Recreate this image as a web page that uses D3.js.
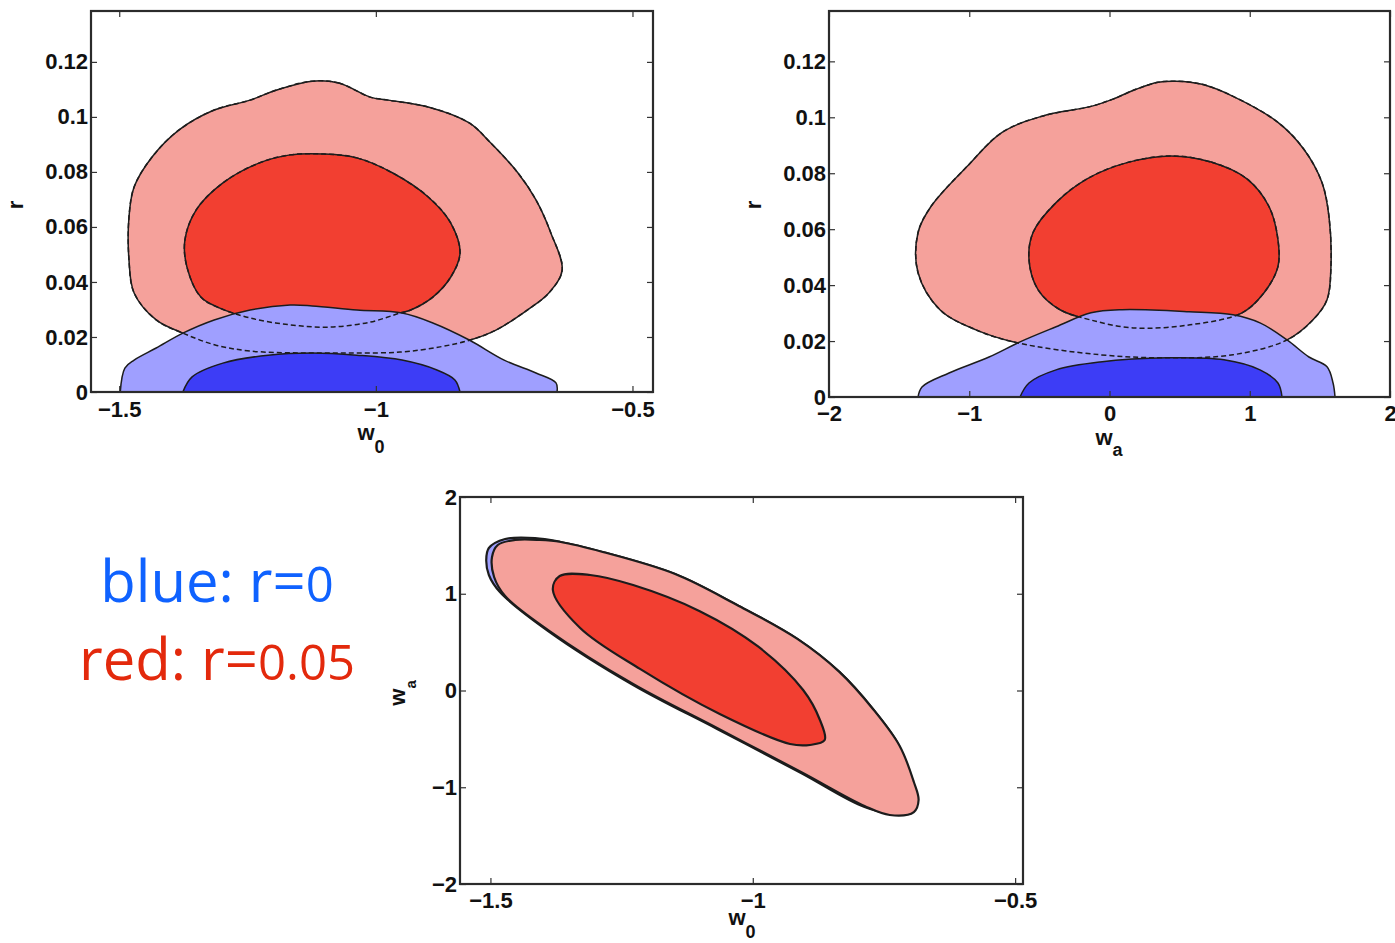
<!DOCTYPE html>
<html>
<head>
<meta charset="utf-8">
<script src="https://cdn.jsdelivr.net/npm/d3@7"></script>
<style>
  body { margin: 0; background: #fff; }
  svg { display: block; }
</style>
</head>
<body>
<script>
// tick values
const ticksW0 = [-1.5, -1, -0.5];
const ticksWa = [-2, -1, 0, 1, 2];
const ticksR = [0, 0.02, 0.04, 0.06, 0.08, 0.1, 0.12];

// contour outlines, [x, y] in data units
// panel 1: w0 vs r
const w0rRedOuter = [[-1.124, 0.1130], [-1.072, 0.1123], [-1.011, 0.1072], [-0.976, 0.1061], [-0.898, 0.1036],
  [-0.818, 0.0978], [-0.776, 0.0905], [-0.723, 0.0796], [-0.688, 0.0698], [-0.659, 0.0578], [-0.637, 0.0443],
  [-0.663, 0.0360], [-0.705, 0.0298], [-0.766, 0.0225], [-0.816, 0.0189], [-0.875, 0.0164], [-0.953, 0.0145],
  [-1.050, 0.0142], [-1.148, 0.0142], [-1.245, 0.0149], [-1.313, 0.0171], [-1.376, 0.0214], [-1.428, 0.0262],
  [-1.471, 0.0360], [-1.481, 0.0480], [-1.481, 0.0636], [-1.471, 0.0745], [-1.436, 0.0854], [-1.384, 0.0952],
  [-1.315, 0.1025], [-1.245, 0.1061], [-1.193, 0.1098]];
const w0rRedInner = [[-1.101, 0.0865], [-1.037, 0.0851], [-0.967, 0.0796], [-0.898, 0.0709], [-0.854, 0.0614],
  [-0.836, 0.0505], [-0.854, 0.0418], [-0.889, 0.0345], [-0.932, 0.0298], [-0.953, 0.0287], [-1.011, 0.0254],
  [-1.089, 0.0236], [-1.167, 0.0244], [-1.245, 0.0269], [-1.304, 0.0305], [-1.341, 0.0345], [-1.368, 0.0454],
  [-1.372, 0.0553], [-1.350, 0.0662], [-1.298, 0.0760], [-1.228, 0.0832], [-1.167, 0.0862]];
const w0rBlueOuter = [[-1.498, 0], [-1.489, 0.0087], [-1.471, 0.0116], [-1.428, 0.0160], [-1.376, 0.0214],
  [-1.315, 0.0262], [-1.245, 0.0298], [-1.167, 0.0316], [-1.124, 0.0313], [-1.037, 0.0298], [-0.949, 0.0287],
  [-0.889, 0.0251], [-0.818, 0.0189], [-0.750, 0.0116], [-0.688, 0.0069], [-0.649, 0.0033], [-0.647, 0]];
const w0rBlueInner = [[-1.376, 0], [-1.358, 0.0055], [-1.298, 0.0105], [-1.210, 0.0134], [-1.124, 0.0142],
  [-1.037, 0.0134], [-0.949, 0.0116], [-0.881, 0.0080], [-0.846, 0.0044], [-0.836, 0]];

// panel 2: wa vs r
const warRedOuter = [[0.474, 0.1129], [0.660, 0.1118], [0.881, 0.1075], [1.201, 0.0982], [1.387, 0.0885],
  [1.515, 0.0767], [1.565, 0.0645], [1.579, 0.0466], [1.551, 0.0348], [1.451, 0.0276], [1.266, 0.0204],
  [0.881, 0.0151], [0.410, 0.0140], [-0.068, 0.0151], [-0.660, 0.0194], [-0.952, 0.0240], [-1.209, 0.0312],
  [-1.365, 0.0444], [-1.365, 0.0588], [-1.273, 0.0681], [-1.016, 0.0824], [-0.766, 0.0946], [-0.481, 0.1004],
  [-0.132, 0.1039], [0.025, 0.1065], [0.189, 0.1100], [0.346, 0.1125]];
const warRedInner = [[0.439, 0.0862], [0.724, 0.0840], [0.980, 0.0780], [1.137, 0.0681], [1.201, 0.0563],
  [1.201, 0.0466], [1.102, 0.0373], [0.945, 0.0301], [0.574, 0.0258], [0.168, 0.0247], [-0.139, 0.0276],
  [-0.353, 0.0312], [-0.510, 0.0384], [-0.574, 0.0491], [-0.545, 0.0588], [-0.381, 0.0695], [-0.160, 0.0780],
  [0.125, 0.0838]];
const warBlueOuter = [[-1.365, 0], [-1.337, 0.0036], [-1.144, 0.0086], [-0.859, 0.0143], [-0.638, 0.0197],
  [-0.381, 0.0251], [-0.132, 0.0301], [0.089, 0.0312], [0.567, 0.0305], [0.881, 0.0294], [1.073, 0.0265],
  [1.266, 0.0204], [1.422, 0.0143], [1.551, 0.0108], [1.594, 0.0050], [1.608, 0]];
const warBlueInner = [[-0.638, 0], [-0.574, 0.0050], [-0.381, 0.0097], [-0.068, 0.0125], [0.410, 0.0140],
  [0.816, 0.0133], [1.073, 0.0097], [1.201, 0.0050], [1.230, 0]];

// panel 3: w0 vs wa
const w0waBlueOuter = [[-1.508, 1.349], [-1.503, 1.473], [-1.472, 1.566], [-1.415, 1.576], [-1.366, 1.535],
  [-1.286, 1.432], [-1.148, 1.204], [-1.030, 0.884], [-0.915, 0.533], [-0.835, 0.192], [-0.771, -0.191],
  [-0.722, -0.563], [-0.700, -0.925], [-0.708, -1.132], [-0.733, -1.256], [-0.787, -1.204], [-0.908, -0.853],
  [-1.068, -0.398], [-1.228, 0.057], [-1.390, 0.615], [-1.482, 1.018], [-1.503, 1.194]];
const w0waRedOuter = [[-1.497, 1.380], [-1.486, 1.504], [-1.453, 1.556], [-1.406, 1.556], [-1.366, 1.535],
  [-1.286, 1.432], [-1.148, 1.204], [-1.030, 0.884], [-0.915, 0.533], [-0.835, 0.192], [-0.771, -0.191],
  [-0.720, -0.573], [-0.693, -0.946], [-0.684, -1.132], [-0.693, -1.256], [-0.739, -1.287], [-0.787, -1.194],
  [-0.908, -0.842], [-1.068, -0.388], [-1.228, 0.067], [-1.390, 0.625], [-1.472, 0.977], [-1.493, 1.173]];
const w0waRedInner = [[-1.381, 1.039], [-1.368, 1.183], [-1.310, 1.194], [-1.228, 1.090], [-1.101, 0.820],
  [-0.990, 0.455], [-0.904, 0.005], [-0.872, -0.305], [-0.863, -0.512], [-0.891, -0.563], [-0.929, -0.553],
  [-1.063, -0.243], [-1.215, 0.223], [-1.329, 0.646]];

const lightRed = '#f5a19b';
const darkRed = '#f23f31';
const lightBlue = '#9f9fff';
const darkBlue = '#3d3df6';
const lineColor = '#1c1c1c';

const svg = d3.select('body').append('svg')
    .attr('width', 1395).attr('height', 943)
    .attr('viewBox', '0 0 1395 943');

const tickFont = 'Liberation Sans, Arial, Helvetica, sans-serif';

function makePanel(id, box, xDomain, yDomain, xTicks, yTicks, lw) {
    const x = d3.scaleLinear().domain(xDomain).range([box.left, box.right]);
    const y = d3.scaleLinear().domain(yDomain).range([box.bottom, box.top]);
    const g = svg.append('g');

    g.append('clipPath').attr('id', id)
        .append('rect')
        .attr('x', box.left).attr('y', box.top)
        .attr('width', box.right - box.left).attr('height', box.bottom - box.top);

    const plot = g.append('g').attr('clip-path', `url(#${id})`);
    return { x, y, g, plot, box, xTicks, yTicks, lw };
}

function closedShape(p, pts, fill, dashed) {
    const line = d3.line().x(d => p.x(d[0])).y(d => p.y(d[1])).curve(d3.curveCatmullRomClosed.alpha(0.5));
    p.plot.append('path')
        .attr('d', line(pts))
        .attr('fill', fill || 'none')
        .attr('stroke', lineColor).attr('stroke-width', p.lw)
        .attr('stroke-dasharray', dashed ? '5,3' : null)
        .attr('stroke-linejoin', 'round');
}

// shapes sitting on the r = 0 floor: open curve closed along the axis
function floorShape(p, pts, fill) {
    const line = d3.line().x(d => p.x(d[0])).y(d => p.y(d[1])).curve(d3.curveCatmullRom.alpha(0.5));
    p.plot.append('path')
        .attr('d', line(pts) + 'Z')
        .attr('fill', fill)
        .attr('stroke', lineColor).attr('stroke-width', p.lw)
        .attr('stroke-linejoin', 'round');
}

function drawAxes(p, fmt, xPad) {
    const { x, y, g, box } = p;
    const tick = 6;

    const bottom = g.append('g').attr('transform', `translate(0,${box.bottom})`)
        .call(d3.axisBottom(x).tickValues(p.xTicks).tickSize(-tick).tickPadding(xPad).tickFormat(fmt.x));
    const top = g.append('g').attr('transform', `translate(0,${box.top})`)
        .call(d3.axisTop(x).tickValues(p.xTicks).tickSize(-tick).tickFormat(''));
    const left = g.append('g').attr('transform', `translate(${box.left},0)`)
        .call(d3.axisLeft(y).tickValues(p.yTicks).tickSize(-tick).tickPadding(3).tickFormat(fmt.y));
    const right = g.append('g').attr('transform', `translate(${box.right},0)`)
        .call(d3.axisRight(y).tickValues(p.yTicks).tickSize(-tick).tickFormat(''));

    [bottom, top, left, right].forEach(a => {
        a.select('.domain').remove();
        a.selectAll('line').attr('stroke', '#333').attr('stroke-width', 1.2);
        a.selectAll('text')
            .attr('font-family', tickFont).attr('font-weight', 'bold')
            .attr('font-size', 22).attr('fill', '#111');
    });

    g.append('rect')
        .attr('x', box.left).attr('y', box.top)
        .attr('width', box.right - box.left).attr('height', box.bottom - box.top)
        .attr('fill', 'none').attr('stroke', '#2b2b2b').attr('stroke-width', 2.2);
}

function axisLabel(x, y, main, sub, subDrop, rotate) {
    const t = svg.append('text')
        .attr('transform', `translate(${x},${y})` + (rotate ? ' rotate(-90)' : ''))
        .attr('font-family', tickFont).attr('font-weight', 'bold')
        .attr('font-size', 22).attr('fill', '#111')
        .attr('text-anchor', 'middle');
    t.append('tspan').text(main);
    if (sub)
        t.append('tspan').attr('dy', subDrop).attr('font-size', rotate ? 15 : 18).text(sub);
}

const fmt = { x: d3.format('~g'), y: d3.format('~g') };

// panel 1
const p1 = makePanel('clip1', { left: 91, right: 653, top: 11, bottom: 392 },
    [-1.555, -0.46], [0, 0.1385], ticksW0, ticksR, 1.5);
closedShape(p1, w0rRedOuter, lightRed);
closedShape(p1, w0rRedInner, darkRed);
floorShape(p1, w0rBlueOuter, lightBlue);
floorShape(p1, w0rBlueInner, darkBlue);
closedShape(p1, w0rRedOuter, null, true);
closedShape(p1, w0rRedInner, null, true);
drawAxes(p1, fmt, 9);
axisLabel(371, 440, 'w', '0', 13);
axisLabel(23, 205, 'r', null, 0, true);

// panel 2
const p2 = makePanel('clip2', { left: 829, right: 1390, top: 11, bottom: 397 },
    [-2, 2], [0, 0.138], ticksWa, ticksR, 1.5);
closedShape(p2, warRedOuter, lightRed);
closedShape(p2, warRedInner, darkRed);
floorShape(p2, warBlueOuter, lightBlue);
floorShape(p2, warBlueInner, darkBlue);
closedShape(p2, warRedOuter, null, true);
closedShape(p2, warRedInner, null, true);
drawAxes(p2, fmt, 8);
axisLabel(1109, 445, 'w', 'a', 11);
axisLabel(761, 205, 'r', null, 0, true);

// panel 3
const p3 = makePanel('clip3', { left: 460, right: 1023, top: 497, bottom: 884 },
    [-1.558, -0.485], [-2, 2], ticksW0, ticksWa, 2.2);
closedShape(p3, w0waBlueOuter, lightBlue);
closedShape(p3, w0waRedOuter, lightRed);
closedShape(p3, w0waRedInner, darkRed);
drawAxes(p3, fmt, 8);
axisLabel(742, 925, 'w', '0', 13);
axisLabel(405, 693, 'w', 'a', 11, true);

// legend text
const legendFont = 'Open Sans, DejaVu Sans, sans-serif';
const blueText = svg.append('text')
    .attr('x', 217).attr('y', 602)
    .attr('text-anchor', 'middle')
    .attr('font-family', legendFont).attr('font-size', 58)
    .attr('fill', '#0f62ff');
blueText.append('tspan').text('blue: r=');
blueText.append('tspan').attr('font-size', 49).text('0');

const redText = svg.append('text')
    .attr('x', 217).attr('y', 680)
    .attr('text-anchor', 'middle')
    .attr('font-family', legendFont).attr('font-size', 58)
    .attr('fill', '#e3290c');
redText.append('tspan').text('red: r=');
redText.append('tspan').attr('font-size', 49).text('0.05');
</script>
</body>
</html>
